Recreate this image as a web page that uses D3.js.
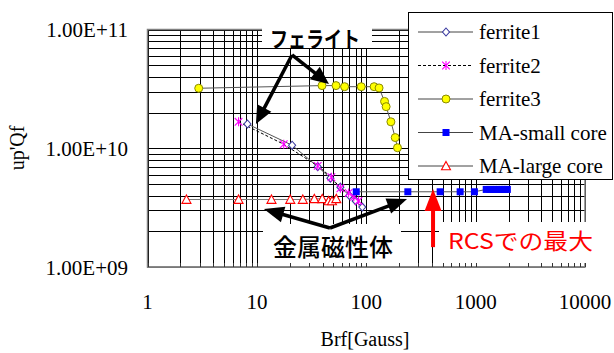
<!DOCTYPE html>
<html><head><meta charset="utf-8">
<script src="https://cdn.jsdelivr.net/npm/d3@7"></script>
<style>body{margin:0;background:#fff} svg{display:block}</style>
</head><body><svg id="c" width="614" height="353"></svg>
<script>
// ---------- data ----------
const xTickValues = [1, 10, 100, 1000, 10000];
const xTickLabels = ["1", "10", "100", "1000", "10000"];
const yTickValues = [1e9, 1e10, 1e11];
const yTickLabels = ["1.00E+09", "1.00E+10", "1.00E+11"];
const seriesNames = ["ferrite1", "ferrite2", "ferrite3", "MA-small core", "MA-large core"];

const ferrite1X = [8.2, 21, 36, 47, 58, 70, 80, 92];
const ferrite1Y = [1.6e10, 1.06e10, 7.0e9, 5.6e9, 4.7e9, 4.0e9, 3.6e9, 3.2e9];
const ferrite2X = [6.8, 17.6, 36, 48, 58, 69, 77, 85];
const ferrite2Y = [1.67e10, 1.08e10, 7.1e9, 5.7e9, 4.6e9, 4.2e9, 3.9e9, 3.6e9];
const ferrite3X = [2.94, 39.4, 52.9, 63.4, 90, 118, 131, 147, 152, 168, 184, 193];
const ferrite3Y = [3.2e10, 3.37e10, 3.37e10, 3.3e10, 3.3e10, 3.3e10, 3.22e10, 2.48e10, 2.24e10, 1.67e10, 1.23e10, 1.01e10];
const maSmallX = [81, 240, 474, 722, 975, 1250, 1350, 1450, 1550, 1650, 1750, 1850, 1950];
const maSmallY = [4.3e9, 4.3e9, 4.3e9, 4.3e9, 4.3e9, 4.5e9, 4.5e9, 4.5e9, 4.5e9, 4.5e9, 4.5e9, 4.5e9, 4.5e9];
const maLargeX = [2.27, 6.8, 13.6, 20.2, 26.3, 33.5, 39.6, 45.3, 48.6, 53.2];
const maLargeY = [3.7e9, 3.7e9, 3.7e9, 3.7e9, 3.7e9, 3.75e9, 3.75e9, 3.6e9, 3.6e9, 3.75e9];

const labelFerrite = "フェライト";
const labelMetal = "金属磁性体";
const labelRCS = "RCSでの最大";
const xTitle = "Brf[Gauss]";
const yTitle = "up'Qf";

// annotation arrows in data space: [fromX, fromY, toX, toY]
const ferriteArrows = [[20.95, 6.1e10, 9.8, 1.6e10], [20.95, 6.1e10, 45.6, 3.47e10]];
const metalArrows = [[46.6, 2.13e9, 11.6, 3.08e9], [46.6, 2.13e9, 236, 3.74e9]];
const rcsArrow = [408, 1.47e9, 408, 4.54e9];

// ---------- chart ----------
const svg = d3.select("#c");
const m = {l: 147.5, r: 585, t: 29.5, b: 267};
const x = d3.scaleLog().domain([1, 10000]).range([m.l, m.r]);
const y = d3.scaleLog().domain([1e9, 1e11]).range([m.b, m.t]);
const serif = "'Liberation Serif','Times New Roman',serif";
const cjk = "'Noto Sans CJK JP','Noto Sans CJK SC',sans-serif";
const px = v => Math.round(x(v)) + 0.5;
const py = v => Math.round(y(v)) + 0.5;

// gridlines
const g = svg.append("g");
g.selectAll(".vg").data(x.ticks()).join("line")
  .attr("x1", d => px(d)).attr("x2", d => px(d))
  .attr("y1", m.t).attr("y2", m.b).attr("stroke", "#000").attr("stroke-width", 1);
g.selectAll(".hg").data(y.ticks()).join("line")
  .attr("x1", m.l).attr("x2", m.r)
  .attr("y1", d => py(d)).attr("y2", d => py(d)).attr("stroke", "#000").attr("stroke-width", 1);
svg.append("rect").attr("x", m.l).attr("y", m.t).attr("width", m.r - m.l).attr("height", m.b - m.t)
  .attr("fill", "none").attr("stroke", "#808080").attr("stroke-width", 1.5);

// series
const zip = (a, b) => a.map((v, i) => [v, b[i]]);
const series = [
  {name: seriesNames[0], pts: zip(ferrite1X, ferrite1Y), line: "#555", dash: null, marker: "diamond"},
  {name: seriesNames[1], pts: zip(ferrite2X, ferrite2Y), line: "#000", dash: "3,2", marker: "asterisk"},
  {name: seriesNames[2], pts: zip(ferrite3X, ferrite3Y), line: "#555", dash: null, marker: "circle"},
  {name: seriesNames[3], pts: zip(maSmallX, maSmallY), line: "#555", dash: null, marker: "square"},
  {name: seriesNames[4], pts: zip(maLargeX, maLargeY), line: "#777", dash: null, marker: "triangle"}
];
const lineGen = d3.line().x(d => x(d[0])).y(d => y(d[1]));

function drawMarker(sel, type) {
  if (type === "diamond") {
    sel.append("path").attr("d", "M0,-4L3.5,0L0,4L-3.5,0Z").attr("fill", "#fff").attr("stroke", "#3a3aa0").attr("stroke-width", 1.1);
  } else if (type === "asterisk") {
    sel.append("path").attr("d", "M0,-4.5V4.5M-3.8,-3.8L3.8,3.8M-3.8,3.8L3.8,-3.8").attr("stroke", "#ff00ff").attr("stroke-width", 1.1).attr("fill", "none");
  } else if (type === "circle") {
    sel.append("circle").attr("r", 4).attr("fill", "#ffff00").attr("stroke", "#8a8a00").attr("stroke-width", 1);
  } else if (type === "square") {
    sel.append("rect").attr("x", -3.5).attr("y", -3.5).attr("width", 7).attr("height", 7).attr("fill", "#0000ff");
  } else if (type === "triangle") {
    sel.append("path").attr("d", "M0,-4.5L4.5,3.8L-4.5,3.8Z").attr("fill", "#fff").attr("stroke", "#ff0000").attr("stroke-width", 1.1);
  }
}

series.forEach(s => {
  svg.append("path").attr("d", lineGen(s.pts)).attr("fill", "none")
    .attr("stroke", s.line).attr("stroke-width", 1).attr("stroke-dasharray", s.dash);
});
series.forEach(s => {
  s.pts.forEach(p => {
    const mk = svg.append("g").attr("transform", `translate(${x(p[0])},${y(p[1])})`);
    drawMarker(mk, s.marker);
  });
});

// white annotation boxes
svg.append("rect").attr("x", 262).attr("y", 26).attr("width", 110).attr("height", 22).attr("fill", "#fff");
svg.append("rect").attr("x", 263).attr("y", 224).attr("width", 138).attr("height", 39).attr("fill", "#fff");
svg.append("rect").attr("x", 439).attr("y", 222).attr("width", 175).attr("height", 41).attr("fill", "#fff");

// bottom axis line and inward ticks
svg.append("line").attr("x1", m.l).attr("x2", m.r).attr("y1", m.b).attr("y2", m.b).attr("stroke", "#808080").attr("stroke-width", 1.5);
svg.selectAll(".bt").data(x.ticks()).join("line")
  .attr("x1", d => px(d)).attr("x2", d => px(d)).attr("y1", m.b).attr("y2", m.b - 4)
  .attr("stroke", "#333").attr("stroke-width", 1);

// arrows
function arrow(a, color, sw, L, hw) {
  const x1 = x(a[0]), y1 = y(a[1]), x2 = x(a[2]), y2 = y(a[3]);
  const dx = x2 - x1, dy = y2 - y1, len = Math.hypot(dx, dy);
  const ux = dx / len, uy = dy / len;
  const bx = x2 - ux * L, by = y2 - uy * L;
  svg.append("line").attr("x1", x1).attr("y1", y1).attr("x2", bx + ux * 2).attr("y2", by + uy * 2)
    .attr("stroke", color).attr("stroke-width", sw);
  svg.append("path").attr("d", `M${x2},${y2}L${bx - uy * hw},${by + ux * hw}L${bx + uy * hw},${by - ux * hw}Z`)
    .attr("fill", color);
}
ferriteArrows.forEach(a => arrow(a, "#000", 3.5, 18, 8));
metalArrows.forEach(a => arrow(a, "#000", 3.5, 20, 8));
arrow(rcsArrow, "#ff0000", 4, 22, 8.5);

// annotation texts
svg.append("text").attr("x", 270).attr("y", 46.5).attr("textLength", 90).attr("lengthAdjust", "spacingAndGlyphs")
  .attr("font-family", cjk).attr("font-weight", 700).attr("font-size", 22).attr("fill", "#000").text(labelFerrite);
svg.append("text").attr("x", 273).attr("y", 256).attr("textLength", 120).attr("lengthAdjust", "spacingAndGlyphs")
  .attr("font-family", cjk).attr("font-weight", 500).attr("font-size", 24).attr("fill", "#000").text(labelMetal);
svg.append("text").attr("x", 448).attr("y", 249).attr("textLength", 145).attr("lengthAdjust", "spacingAndGlyphs")
  .attr("font-family", cjk).attr("font-weight", 400).attr("font-size", 22).attr("fill", "#ff0000").text(labelRCS);

// tick labels
svg.selectAll(".xl").data(xTickValues).join("text")
  .attr("x", d => x(d)).attr("y", 309).attr("text-anchor", "middle")
  .attr("font-family", serif).attr("font-size", 21).attr("fill", "#000")
  .text((d, i) => xTickLabels[i]);
svg.selectAll(".yl").data(yTickValues).join("text")
  .attr("x", 128).attr("y", d => y(d) + 7.5).attr("text-anchor", "end")
  .attr("font-family", serif).attr("font-size", 21).attr("fill", "#000")
  .text((d, i) => yTickLabels[i]);

// axis titles
svg.append("text").attr("x", 365).attr("y", 346).attr("text-anchor", "middle")
  .attr("font-family", serif).attr("font-size", 20).attr("fill", "#000").text(xTitle);
svg.append("text").attr("transform", "translate(24,148) rotate(-90)").attr("text-anchor", "middle")
  .attr("font-family", serif).attr("font-size", 20).attr("fill", "#000").text(yTitle);

// legend
const lg = svg.append("g");
lg.append("rect").attr("x", 408.5).attr("y", 12.5).attr("width", 204).attr("height", 167)
  .attr("fill", "#fff").attr("stroke", "#000").attr("stroke-width", 1);
series.forEach((s, i) => {
  const yy = 32 + i * 33.5;
  lg.append("line").attr("x1", 418).attr("x2", 473).attr("y1", yy).attr("y2", yy)
    .attr("stroke", s.line === "#000" ? "#000" : "#444").attr("stroke-width", 1).attr("stroke-dasharray", s.dash);
  const mk = lg.append("g").attr("transform", `translate(446,${yy})`);
  drawMarker(mk, s.marker);
  lg.append("text").attr("x", 479).attr("y", yy + 7).attr("font-family", serif).attr("font-size", 21)
    .attr("fill", "#000").text(s.name);
});
</script>
</body></html>
